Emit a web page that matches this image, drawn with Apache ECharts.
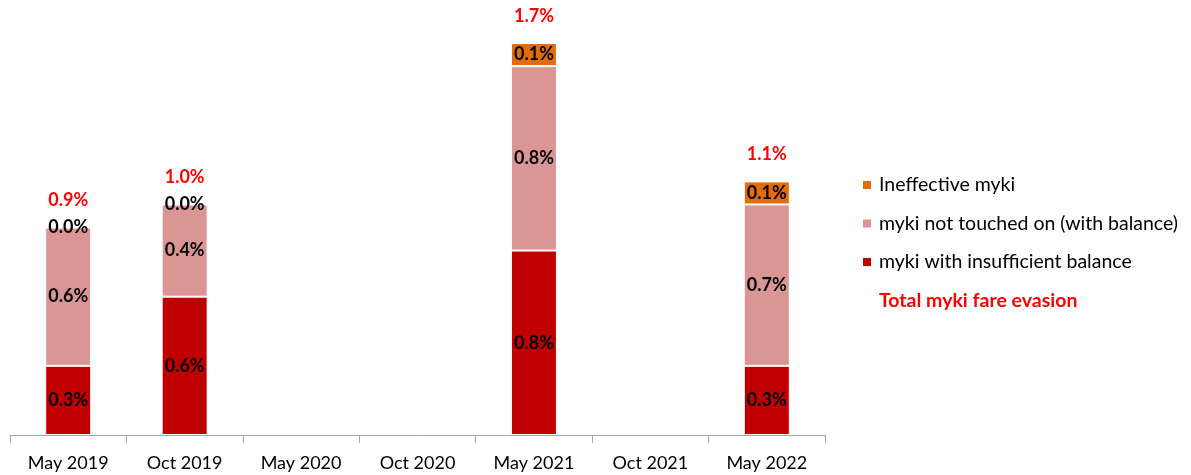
<!DOCTYPE html>
<html><head><meta charset="utf-8">
<script src="https://cdn.jsdelivr.net/npm/echarts@6/dist/echarts.min.js"></script>
<style>html,body{margin:0;padding:0;background:#fff}#c{width:1191px;height:475px}</style>
</head><body><div id="c"></div>
<script>
var categories = ['May 2019','Oct 2019','May 2020','Oct 2020','May 2021','Oct 2021','May 2022'];
var insufficient = [0.30, 0.60, '-', '-', 0.80, '-', 0.30];
var notTouched   = [0.60, 0.40, '-', '-', 0.80, '-', 0.70];
var ineffective  = [0.00, 0.00, '-', '-', 0.10, '-', 0.10];
var totals       = [0.90, 1.00, '-', '-', 1.70, '-', 1.10];

var FONT = 'Lato';
var chart = echarts.init(document.getElementById('c'));
function pct(p){ return Number(p.value).toFixed(1) + '%'; }
var segLabel = {show:true, position:'inside', formatter:pct, color:'#000', fontWeight:'bold', fontSize:18, fontFamily:FONT};
chart.setOption({
  animation:false,
  grid:{left:10, right:366, top:20, bottom:40},
  legend:{
    orient:'vertical', left:856, top:170, itemGap:18.5, itemWidth:10, itemHeight:10,
    textStyle:{fontFamily:FONT, fontSize:19.5, color:'#000', padding:[0,0,0,2]},
    data:[
      {name:'Ineffective myki', icon:'rect'},
      {name:'myki not touched on (with balance)', icon:'rect'},
      {name:'myki with insufficient balance', icon:'rect'},
      {name:'Total myki fare evasion', icon:'rect', itemStyle:{opacity:0}, textStyle:{color:'#FF0000', fontWeight:'bold'}}
    ]
  },
  xAxis:{type:'category', data:categories,
    axisLine:{lineStyle:{color:'#A6A6A6', width:1}},
    axisTick:{show:true, length:8, lineStyle:{color:'#A6A6A6'}},
    axisLabel:{color:'#000', fontFamily:FONT, fontSize:18, margin:19}
  },
  yAxis:{type:'value', min:0, max:1.8, show:false, splitLine:{show:false}},
  series:[
    {name:'myki with insufficient balance', type:'bar', stack:'s', data:insufficient, barWidth:46,
     itemStyle:{color:'#C00000', borderColor:'#fff', borderWidth:1}, label:segLabel},
    {name:'myki not touched on (with balance)', type:'bar', stack:'s', data:notTouched,
     itemStyle:{color:'#DA9694', borderColor:'#fff', borderWidth:1}, label:segLabel},
    {name:'Ineffective myki', type:'bar', stack:'s', data:ineffective,
     itemStyle:{color:'#E36C09', borderColor:'#fff', borderWidth:1}, label:segLabel},
    {name:'Total myki fare evasion', type:'scatter', data:totals, symbol:'circle', symbolSize:2,
     itemStyle:{color:'rgba(255,255,255,0)', opacity:1},
     label:{show:true, position:'top', distance:17, formatter:pct, color:'#FF0000', opacity:1, fontWeight:'bold', fontSize:18, fontFamily:FONT}}
  ]
});
</script></body></html>
